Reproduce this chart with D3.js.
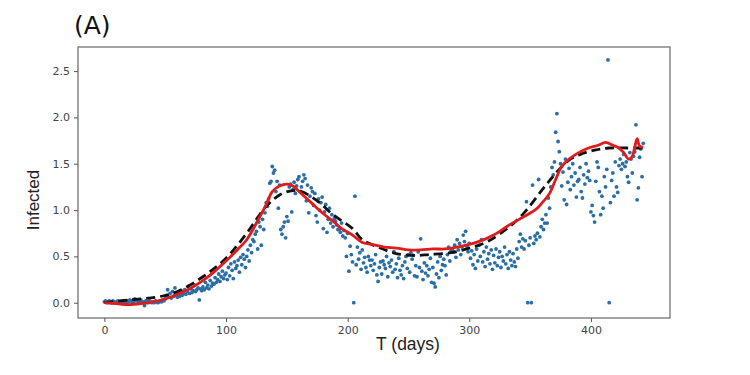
<!DOCTYPE html>
<html>
<head>
<meta charset="utf-8">
<script src="https://cdn.jsdelivr.net/npm/d3@7"></script>
<style>
  body { margin: 0; background: #fff; }
  svg text { font-family: "DejaVu Sans", sans-serif; }
</style>
</head>
<body>
<div id="chart"></div>
<script>
var obs0 = [0.01, 0.02, 0.0, 0.01, 0.02, 0.01, 0.0, 0.02, 0.01, 0.0,
  0.01, 0.02, 0.01, 0.0, 0.01, -0.01, 0.02, 0.01, 0.0, 0.02,
  0.01, 0.03, 0.02, 0.0, 0.01, 0.04, 0.02, 0.03, 0.01, 0.02,
  0.03, 0.0, 0.01, -0.03, 0.02, 0.01, 0.0, 0.02, 0.01, 0.0,
  0.01, 0.0, 0.02, 0.01, 0.0, 0.01, 0.02, 0.01, 0.03, 0.02,
  0.04, 0.08, 0.14, 0.06, 0.1, 0.05, 0.12, 0.07, 0.16, 0.09,
  0.06, 0.11, 0.07, 0.13, 0.08, 0.1, 0.14, 0.09, 0.12, 0.18,
  0.1, 0.15, 0.11, 0.13, 0.19, 0.12, 0.14, 0.16, 0.03, 0.15,
  0.13, 0.17, 0.14, 0.22, 0.16, 0.19, 0.15, 0.24, 0.18, 0.21,
  0.2, 0.27, 0.22, 0.25, 0.31, 0.23, 0.28, 0.34, 0.26, 0.3]
var obs100 = [0.32, 0.25, 0.38, 0.29, 0.42, 0.35, 0.26, 0.44, 0.37, 0.4,
  0.46, 0.33, 0.49, 0.41, 0.52, 0.47, 0.38, 0.5, 0.57, 0.45,
  0.62, 0.54, 0.68, 0.66, 0.74, 0.77, 0.58, 0.87, 0.82, 0.62,
  0.9, 0.79, 0.97, 1.08, 1.04, 1.12, 1.29, 1.31, 1.47, 1.4,
  1.43, 1.2, 1.31, 1.02, 1.27, 0.79, 0.74, 0.82, 0.87, 0.7,
  0.93, 0.88, 1.25, 1.28, 0.98, 1.22, 1.3, 1.18, 1.26, 1.33,
  1.36, 1.2, 1.25, 1.31, 1.38, 1.34, 1.1, 1.27, 0.97, 1.15,
  1.24, 1.2, 1.05, 1.18, 0.94, 0.87, 1.12, 1.0, 1.08, 1.14,
  0.8, 0.98, 1.06, 0.76, 0.9, 1.02, 0.86, 0.95, 0.82, 0.91,
  0.88, 0.84, 0.79, 0.79, 0.76, 0.86, 0.72, 0.78, 0.7, 0.5]
var obs200 = [0.75, 0.34, 0.61, 0.52, 0.44, 0.0, 1.15, 0.41, 0.6, 0.47,
  0.54, 0.36, 0.57, 0.43, 0.49, 0.38, 0.33, 0.5, 0.46, 0.4,
  0.46, 0.35, 0.42, 0.52, 0.3, 0.23, 0.38, 0.44, 0.31, 0.45,
  0.41, 0.37, 0.5, 0.28, 0.43, 0.39, 0.46, 0.33, 0.55, 0.36,
  0.42, 0.27, 0.48, 0.35, 0.3, 0.4, 0.26, 0.44, 0.5, 0.37,
  0.52, 0.33, 0.54, 0.47, 0.51, 0.29, 0.4, 0.28, 0.55, 0.38,
  0.69, 0.34, 0.25, 0.43, 0.32, 0.4, 0.29, 0.36, 0.48, 0.22,
  0.38, 0.21, 0.17, 0.31, 0.44, 0.27, 0.5, 0.35, 0.41, 0.47,
  0.4, 0.3, 0.52, 0.6, 0.45, 0.56, 0.57, 0.55, 0.62, 0.49,
  0.68, 0.57, 0.64, 0.52, 0.6, 0.73, 0.66, 0.77, 0.61, 0.55]
var obs300 = [0.64, 0.48, 0.56, 0.41, 0.52, 0.37, 0.58, 0.45, 0.62, 0.5,
  0.68, 0.44, 0.55, 0.39, 0.6, 0.47, 0.53, 0.42, 0.57, 0.36,
  0.51, 0.43, 0.58, 0.4, 0.49, 0.55, 0.38, 0.5, 0.45, 0.6,
  0.42, 0.52, 0.37, 0.55, 0.46, 0.4, 0.53, 0.44, 0.39, 0.58,
  0.48, 0.66, 0.74, 0.6, 0.69, 0.58, 0.67, 1.09, 0.0, 0.62,
  0.7, 0.0, 1.27, 0.64, 0.72, 0.68, 0.75, 1.33, 0.71, 0.82,
  0.9, 0.79, 0.86, 0.95, 0.86, 1.13, 1.02, 1.25, 1.46, 1.38,
  1.52, 1.84, 2.04, 1.74, 1.63, 1.5, 1.26, 1.41, 1.11, 1.55,
  1.06, 1.3, 1.45, 1.22, 1.36, 1.5, 1.27, 1.4, 1.14, 1.31,
  1.33, 1.46, 1.2, 1.13, 1.38, 1.28, 1.5, 1.35, 1.42, 1.32]
var obs400 = [0.98, 1.05, 0.94, 0.87, 1.31, 1.52, 1.46, 1.2, 0.95, 1.15,
  1.02, 1.36, 1.25, 1.44, 2.62, 0.0, 1.08, 1.32, 1.4, 1.15,
  1.52, 1.25, 1.19, 1.48, 1.55, 1.44, 1.5, 1.6, 1.47, 1.52,
  1.36, 1.3, 1.62, 1.55, 1.4, 1.58, 1.63, 1.92, 1.11, 1.24,
  1.57, 1.66, 1.36, 1.72]

// fitted model (red)
var fitDays = [0, 10, 20, 30, 40, 50, 60, 70, 80, 90, 100, 110, 117, 125, 133, 138, 144, 150, 155, 160, 170, 180, 188, 195, 204, 212, 220, 230, 240, 250, 260, 270, 280, 290, 300, 310, 320, 333, 345, 355, 360, 366, 371, 376, 382, 390, 398, 406, 412, 418, 423, 427, 431, 434, 436, 438, 440, 443]
var fitVals = [0.0, -0.01, -0.02, -0.01, 0.01, 0.04, 0.09, 0.15, 0.23, 0.33, 0.45, 0.58, 0.68, 0.86, 1.06, 1.2, 1.26, 1.28, 1.26, 1.2, 1.08, 0.96, 0.88, 0.8, 0.73, 0.65, 0.63, 0.6, 0.59, 0.57, 0.57, 0.58, 0.58, 0.6, 0.63, 0.67, 0.73, 0.84, 0.93, 1.01, 1.08, 1.18, 1.33, 1.47, 1.55, 1.62, 1.67, 1.7, 1.73, 1.7, 1.67, 1.62, 1.55, 1.58, 1.68, 1.77, 1.69, 1.68]

// smooth trend (black dashed)
var trendDays = [0, 20, 45, 60, 81, 100, 117, 133, 145, 155, 162, 175, 188, 204, 212, 225, 240, 255, 267, 285, 300, 315, 333, 345, 360, 370, 382, 393, 404, 415, 430, 443]
var trendVals = [0.0, 0.03, 0.065, 0.12, 0.28, 0.48, 0.75, 1.04, 1.17, 1.21, 1.2, 1.1, 0.95, 0.8, 0.68, 0.6, 0.53, 0.51, 0.52, 0.54, 0.59, 0.66, 0.82, 0.97, 1.22, 1.38, 1.54, 1.61, 1.65, 1.67, 1.67, 1.67]

var xTicks = [0, 100, 200, 300, 400]
var yTicks = [0.0, 0.5, 1.0, 1.5, 2.0, 2.5]

var observed = [].concat(obs0, obs100, obs200, obs300, obs400).map(function (v, i) { return { day: i, value: v } })

var width = 750, height = 375
var margin = { left: 78, top: 47, right: 80, bottom: 57 }

var svg = d3.select("#chart").append("svg").attr("width", width).attr("height", height)

var x = d3.scaleLinear().domain([-21.7, 465]).range([margin.left, width - margin.right])
var y = d3.scaleLinear().domain([-0.165, 2.76]).range([height - margin.bottom, margin.top])

var plot = svg.append("g")

plot.selectAll("circle.obs").data(observed).enter().append("circle")
  .attr("class", "obs")
  .attr("cx", function (d) { return x(d.day) })
  .attr("cy", function (d) { return y(d.value) })
  .attr("r", 1.9)
  .attr("fill", "#2a6ea6")

var lineFn = d3.line()
  .x(function (d) { return x(d[0]) })
  .y(function (d) { return y(d[1]) })
  .curve(d3.curveCatmullRom)

plot.append("path")
  .attr("d", lineFn(trendDays.map(function (d, i) { return [d, trendVals[i]] })))
  .attr("fill", "none").attr("stroke", "#111").attr("stroke-width", 2.8)
  .attr("stroke-dasharray", "9,5")

plot.append("path")
  .attr("d", lineFn(fitDays.map(function (d, i) { return [d, fitVals[i]] })))
  .attr("fill", "none").attr("stroke", "#e01b1b").attr("stroke-width", 2.8)

// axes
var xAxis = svg.append("g").attr("transform", "translate(0," + (height - margin.bottom) + ")")
  .call(d3.axisBottom(x).tickValues(xTicks).tickSize(4).tickPadding(4).tickFormat(d3.format("d")))
var yAxis = svg.append("g").attr("transform", "translate(" + margin.left + ",0)")
  .call(d3.axisLeft(y).tickValues(yTicks).tickSize(4).tickPadding(4).tickFormat(d3.format(".1f")))

;[xAxis, yAxis].forEach(function (g) {
  g.select(".domain").remove()
  g.selectAll(".tick line").attr("stroke", "#555")
  g.selectAll(".tick text").attr("fill", "#444").style("font-size", "11px")
})

svg.append("rect")
  .attr("x", margin.left).attr("y", margin.top)
  .attr("width", width - margin.left - margin.right)
  .attr("height", height - margin.top - margin.bottom)
  .attr("fill", "none").attr("stroke", "#666").attr("stroke-width", 1.2)

svg.append("text").attr("x", 74).attr("y", 34)
  .style("font-size", "25px").attr("fill", "#111").text("(A)")

svg.append("text").attr("x", 408).attr("y", 350)
  .attr("text-anchor", "middle")
  .style("font-family", "'Liberation Sans', Arial, sans-serif")
  .style("font-size", "17.5px").attr("fill", "#222").text("T (days)")

svg.append("text")
  .attr("transform", "translate(39,200) rotate(-90)")
  .attr("text-anchor", "middle")
  .style("font-family", "'Liberation Sans', Arial, sans-serif")
  .style("font-size", "17px").attr("fill", "#222").text("Infected")
</script>
</body>
</html>
